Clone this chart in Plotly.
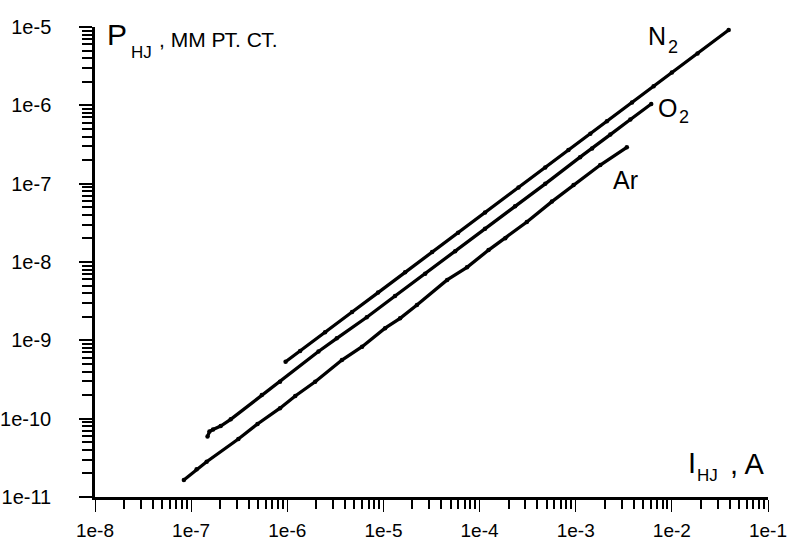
import plotly.graph_objects as go

# ---- data ----
N2_I = [9.6e-7, 1.36e-6, 2.47e-6, 4.72e-6, 8.8e-6, 1.68e-5, 3.21e-5, 5.98e-5, 1.14e-4,
        2.54e-4, 4.82e-4, 8.4e-4, 1.42e-3, 2.11e-3, 3.85e-3, 6.46e-3, 1.0e-2, 1.85e-2, 3.9e-2]
N2_P = [5.33e-10, 7.3e-10, 1.27e-9, 2.3e-9, 4.07e-9, 7.38e-9, 1.34e-8, 2.37e-8, 4.3e-8,
        8.95e-8, 1.61e-7, 2.69e-7, 4.34e-7, 6.27e-7, 1.09e-6, 1.75e-6, 2.62e-6, 4.6e-6, 9.16e-6]

O2_I = [1.48e-7, 1.55e-7, 1.69e-7, 2.03e-7, 2.58e-7, 5.43e-7, 8.4e-7, 2.11e-6, 3.27e-6,
        6.71e-6, 1.32e-5, 2.72e-5, 5.57e-5, 1.14e-4, 2.34e-4, 4.82e-4, 1.11e-3, 1.48e-3,
        2.29e-3, 3.7e-3, 6.1e-3]
O2_P = [5.9e-11, 6.85e-11, 7.28e-11, 8.05e-11, 9.8e-11, 2.0e-10, 2.96e-10, 7.2e-10, 1.06e-9,
        1.97e-9, 3.68e-9, 7.1e-9, 1.37e-8, 2.66e-8, 5.14e-8, 9.95e-8, 2.18e-7, 2.82e-7,
        4.23e-7, 6.6e-7, 1.04e-6]

Ar_I = [8.4e-8, 1.14e-7, 1.45e-7, 3.1e-7, 4.9e-7, 8.4e-7, 1.21e-6, 1.95e-6, 3.7e-6, 6.0e-6,
        1.04e-5, 1.49e-5, 2.23e-5, 4.6e-5, 7.4e-5, 1.24e-4, 1.85e-4, 3.1e-4, 5.65e-4, 9.5e-4,
        1.8e-3, 3.4e-3]
Ar_P = [1.65e-11, 2.26e-11, 2.82e-11, 5.5e-11, 8.55e-11, 1.36e-10, 1.95e-10, 2.96e-10,
        5.6e-10, 8.3e-10, 1.43e-9, 1.91e-9, 2.82e-9, 5.9e-9, 8.55e-9, 1.42e-8, 2.01e-8,
        3.24e-8, 5.9e-8, 9.6e-8, 1.73e-7, 2.91e-7]

x_ticks = [1e-8, 1e-7, 1e-6, 1e-5, 1e-4, 1e-3, 1e-2, 1e-1]
x_ticktext = ["1e-8", "1e-7", "1e-6", "1e-5", "1e-4", "1e-3", "1e-2", "1e-1"]
y_ticks = [1e-11, 1e-10, 1e-9, 1e-8, 1e-7, 1e-6, 1e-5]
y_ticktext = ["1e-11", "1e-10", "1e-9", "1e-8", "1e-7", "1e-6", "1e-5"]

series = [("N2", N2_I, N2_P), ("O2", O2_I, O2_P), ("Ar", Ar_I, Ar_P)]

FONT = "Liberation Sans, Arial, sans-serif"

fig = go.Figure()
for name, xs, ys in series:
    fig.add_trace(go.Scatter(x=xs, y=ys, mode="lines+markers", name=name,
                             line=dict(color="black", width=3.3),
                             marker=dict(color="black", size=4.5),
                             showlegend=False, cliponaxis=False))

def minor_vals(lo, hi):
    vals = []
    for e in range(lo, hi):
        for m in range(2, 10):
            vals.append(m * 10.0 ** e)
    return vals

L, R, T, B = 95, 24, 27, 46
W, H = 792, 543
PW, PH = W - L - R, H - T - B

def px(x):
    return (x - L) / PW

def py(y):
    return (H - B - y) / PH

fig.update_xaxes(type="log", range=[-8, -1], showgrid=False, zeroline=False,
                 automargin=False,
                 showline=True, linecolor="black", linewidth=2.5,
                 tickmode="array", tickvals=x_ticks, ticktext=x_ticktext,
                 ticks="outside", ticklen=12, tickwidth=1.2, tickcolor="black",
                 ticklabelstandoff=2,
                 tickfont=dict(family=FONT, size=19, color="black"),
                 minor=dict(tickmode="array", tickvals=minor_vals(-8, -1),
                            ticks="outside", ticklen=9, tickwidth=2.2, tickcolor="black",
                            showgrid=False))
fig.update_yaxes(type="log", range=[-11, -5], showgrid=False, zeroline=False,
                 automargin=False,
                 showline=True, linecolor="black", linewidth=2.5,
                 tickmode="array", tickvals=y_ticks, ticktext=y_ticktext,
                 ticks="outside", ticklen=13, tickwidth=2.2, tickcolor="black",
                 ticklabelstandoff=24,
                 tickfont=dict(family=FONT, size=20, color="black"),
                 minor=dict(tickmode="array", tickvals=minor_vals(-11, -5),
                            ticks="outside", ticklen=10, tickwidth=2.0, tickcolor="black",
                            showgrid=False))

def ann(text, x, y, size):
    fig.add_annotation(text=text, x=px(x), y=py(y), xref="paper", yref="paper",
                       xanchor="left", yanchor="middle", showarrow=False,
                       font=dict(family=FONT, size=size, color="black"))

# axis titles
ann("P", 105, 34.5, 30)
ann("HJ", 129, 52, 17)
ann(", ММ РТ. СТ.", 157, 39.5, 21)
ann("I", 686, 462.5, 29)
ann("HJ", 695, 475, 17)
ann(", A", 728, 463.5, 29)

# series labels
ann("N", 646, 36, 25)
ann("2", 666, 47, 18)
ann("O", 656, 107.5, 25)
ann("2", 677, 117, 18)
ann("Ar", 611, 179.5, 25)

fig.update_layout(width=W, height=H, margin=dict(l=L, r=R, t=T, b=B),
                  paper_bgcolor="white", plot_bgcolor="white",
                  font=dict(family=FONT, color="black"))

fig.write_html("out.html")
